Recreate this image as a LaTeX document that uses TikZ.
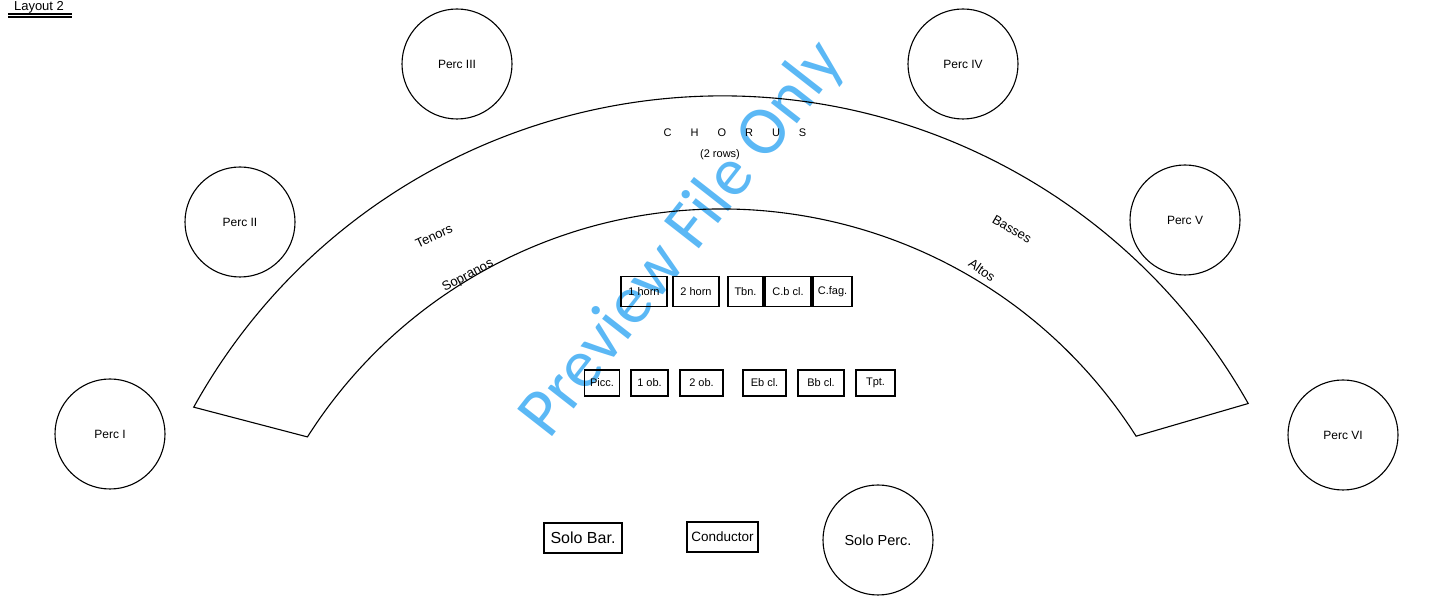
\documentclass[tikz,border=0pt]{standalone}
\usepackage{fontspec}
\usetikzlibrary{calc}
\setmainfont{Liberation Sans}
\newfontfamily\wmfont{Carlito}
\begin{document}
\begin{tikzpicture}[x=1pt,y=1pt,
 perc/.style={circle,draw,line width=1.1pt,minimum size=110pt,inner sep=0pt,font=\fontsize{12}{14}\selectfont},
 inst/.style={draw,line width=1.6pt,minimum height=30pt,inner sep=1pt,font=\fontsize{11}{13}\selectfont},
 lbl/.style={font=\fontsize{13}{15}\selectfont}]
\useasboundingbox (0,0) rectangle (1443,607);
% watermark
\node[rotate=52,text={rgb,255:red,91;green,184;blue,245},font=\wmfont\fontsize{69}{78}\selectfont] (wm) at (683,367) {Preview File Only};
% title
\node[lbl,anchor=base,font=\fontsize{13}{15}\selectfont] (title) at (39,596.5) {Layout 2};
\draw[line width=1.2pt] (8,593) -- (72,593);
\draw[line width=1.2pt] (8,590) -- (72,590);
% chorus arc
\coordinate (c) at (722,-93);
\draw[line width=1.1pt] ($(c)+(151:604)$) arc[start angle=151,end angle=29.4,radius=604pt]
  -- ($(c)+(32.5:491)$) arc[start angle=32.5,end angle=147.6,radius=491pt] -- cycle;
% percussion
\node[perc] (p3) at (457,543) {Perc III};
\node[perc] (p4) at (963,543) {Perc IV};
\node[perc] (p2) at (240,385) {Perc II};
\node[perc] (p5) at (1185,387) {Perc V};
\node[perc] (p1) at (110,173) {Perc I};
\node[perc] (p6) at (1343,172) {Perc VI};
\node[perc,font=\fontsize{14.5}{16}\selectfont] (sp) at (878,67) {Solo Perc.};
% chorus labels
\node[lbl,font=\fontsize{11}{13}\selectfont] (ch) at (735,474) {C\hspace{19pt}H\hspace{19pt}O\hspace{19pt}R\hspace{19pt}U\hspace{19pt}S};
\node[lbl,font=\fontsize{11}{13}\selectfont] (rows) at (720,452) {(2 rows)};
\node[lbl,rotate=25] (ten) at (434,371) {Tenors};
\node[lbl,rotate=28] (sop) at (468,331) {Sopranos};
\node[lbl,rotate=-30] (bas) at (1012,378) {Basses};
\node[lbl,rotate=-35] (alt) at (982,337) {Altos};
% instruments top row
\node[inst,minimum width=46pt] (h1) at (644,315.5) {1 horn};
\node[inst,minimum width=46pt] (h2) at (696,315.5) {2 horn};
\node[inst,minimum width=35pt] (tbn) at (745.5,315.5) {Tbn.};
\node[inst,minimum width=46pt] (cbcl) at (788,315.5) {C.b cl.};
\node[inst,minimum width=39pt] (cfag) at (832.5,315.5) {C.fag.};
% instruments bottom row
\node[inst,minimum width=35pt,minimum height=26pt] (picc) at (602,224) {Picc.};
\node[inst,minimum width=37pt,minimum height=26pt] (ob1) at (649.5,224) {1 ob.};
\node[inst,minimum width=43pt,minimum height=26pt] (ob2) at (701.5,224) {2 ob.};
\node[inst,minimum width=43pt,minimum height=26pt] (ebcl) at (764.5,224) {Eb cl.};
\node[inst,minimum width=46pt,minimum height=26pt] (bbcl) at (821,224) {Bb cl.};
\node[inst,minimum width=39pt,minimum height=26pt] (tpt) at (875.5,224) {Tpt.};
% soloists
\node[inst,minimum width=78pt,font=\fontsize{16}{18}\selectfont] (sb) at (583,69) {Solo Bar.};
\node[inst,minimum width=71pt,font=\fontsize{13.5}{15}\selectfont] (cond) at (722.5,70) {Conductor};
\end{tikzpicture}
\end{document}
